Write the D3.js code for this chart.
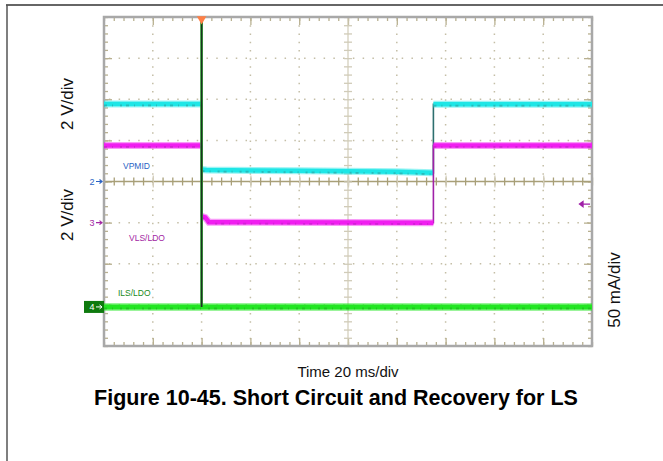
<!DOCTYPE html>
<html>
<head>
<meta charset="utf-8">
<script src="https://cdn.jsdelivr.net/npm/d3@7"></script>
<style>
  body { margin: 0; background: #fff; }
  svg { display: block; font-family: "Liberation Sans", Arial, sans-serif; }
</style>
</head>
<body>
<div id="chart"></div>
<script>
// scope settings: 10 x 20 ms horizontally, 8 divisions vertically
const timeDomain = [0, 200];          // ms
const divDomain = [-4, 4];            // screen divisions

// channel 2, VPMID (2 V/div, ground at 0 div)
const vpmidT = [0, 40, 40, 42, 80, 120, 135, 135, 200];
const vpmidV = [3.77, 3.77, 0.58, 0.56, 0.52, 0.47, 0.42, 3.76, 3.76];

// channel 3, VLS/LDO (2 V/div, ground at -1 div)
const vlsT = [0, 40, 40, 41.5, 43, 135, 135, 200];
const vlsV = [3.75, 3.75, 0.30, 0.25, 0.02, 0.0, 3.75, 3.75];

// channel 4, ILS/LDO (50 mA/div, zero at -3.05 div)
const ilsT = [0, 40, 135, 200];
const ilsI = [0, 0, 0, 0];
const ilsSpikeT = [40, 40];
const ilsSpikeI = [0, 355];

const channels = [
  {name: "VPMID", t: vpmidT, v: vpmidV, perDiv: 2, offset: 0, color: "#1ee6e6", edge: "#2d6f6f", text: "#2a62c4", marker: "2"},
  {name: "VLS/LDO", t: vlsT, v: vlsV, perDiv: 2, offset: -1, color: "#f01ef0", edge: "#a020a8", text: "#a326a3", marker: "3"},
  {name: "ILS/LDO", t: ilsT, v: ilsI, perDiv: 50, offset: -3.05, color: "#22e622", edge: "#1c8a1c", text: "#1a8a1a", marker: "4"}
];

let width = 663;
let height = 461;
let plot = {left: 104, right: 592, top: 17, bottom: 346};

let x = d3.scaleLinear().domain(timeDomain).range([plot.left, plot.right]);
let y = d3.scaleLinear().domain(divDomain).range([plot.bottom, plot.top]);

const svg = d3.select("#chart").append("svg")
    .attr("width", width)
    .attr("height", height);

// outer frame (top and left rule)
svg.append("line").attr("x1", 6).attr("x2", width).attr("y1", 5).attr("y2", 5)
    .attr("stroke", "#333").attr("stroke-width", 1.5);
svg.append("line").attr("x1", 7).attr("x2", 7).attr("y1", 5).attr("y2", height)
    .attr("stroke", "#555").attr("stroke-width", 1.5);

// dotted grid
let xMajor = d3.range(20, 200, 20).filter(d => d != 100);
let yMajor = d3.range(-3, 4, 1).filter(d => d != 0);
let gridColor = "#c4bea6";

svg.append("g")
    .selectAll("line")
    .data(xMajor)
    .join("line")
        .attr("x1", d => x(d)).attr("x2", d => x(d))
        .attr("y1", plot.top).attr("y2", plot.bottom)
        .attr("stroke", gridColor)
        .attr("stroke-width", 1.5)
        .attr("stroke-dasharray", `1.5,${(y(0) - y(0.2)) - 1.5}`);

svg.append("g")
    .selectAll("line")
    .data(yMajor)
    .join("line")
        .attr("y1", d => y(d)).attr("y2", d => y(d))
        .attr("x1", plot.left).attr("x2", plot.right)
        .attr("stroke", gridColor)
        .attr("stroke-width", 1.5)
        .attr("stroke-dasharray", `1.5,${(x(4) - x(0)) - 1.5}`)
        .attr("stroke-dashoffset", -(x(4) - x(0)) / 2);

// edge and centre ticks
let tickColor = "#b8b090";
let xMinor = d3.range(0, 201, 4);
let yMinor = d3.range(-4, 4.01, 0.2).map(d => +d.toFixed(1));

function ticks(g) {
    g.selectAll(".domain").remove();
    g.selectAll("line").attr("stroke", tickColor).attr("stroke-width", 1.3);
    g.selectAll("text").remove();
}

svg.append("g").attr("transform", `translate(0,${plot.top})`)
    .call(d3.axisBottom(x).tickValues(xMinor).tickSize(4).tickFormat(""))
    .call(ticks);
svg.append("g").attr("transform", `translate(0,${plot.bottom})`)
    .call(d3.axisTop(x).tickValues(xMinor).tickSize(4).tickFormat(""))
    .call(ticks);
svg.append("g").attr("transform", `translate(${plot.left},0)`)
    .call(d3.axisRight(y).tickValues(yMinor).tickSize(4).tickFormat(""))
    .call(ticks);
svg.append("g").attr("transform", `translate(${plot.right},0)`)
    .call(d3.axisLeft(y).tickValues(yMinor).tickSize(4).tickFormat(""))
    .call(ticks);
// major ticks slightly longer on the edges
svg.append("g").attr("transform", `translate(0,${plot.top})`)
    .call(d3.axisBottom(x).tickValues(d3.range(20, 200, 20)).tickSize(8).tickFormat(""))
    .call(ticks);
svg.append("g").attr("transform", `translate(0,${plot.bottom})`)
    .call(d3.axisTop(x).tickValues(d3.range(20, 200, 20)).tickSize(8).tickFormat(""))
    .call(ticks);
svg.append("g").attr("transform", `translate(${plot.left},0)`)
    .call(d3.axisRight(y).tickValues(d3.range(-3, 4, 1)).tickSize(8).tickFormat(""))
    .call(ticks);
svg.append("g").attr("transform", `translate(${plot.right},0)`)
    .call(d3.axisLeft(y).tickValues(d3.range(-3, 4, 1)).tickSize(8).tickFormat(""))
    .call(ticks);

// centre cross with ticks on both sides
let centreColor = "#a89f78";
svg.append("line")
    .attr("x1", plot.left).attr("x2", plot.right).attr("y1", y(0)).attr("y2", y(0))
    .attr("stroke", centreColor).attr("stroke-width", 1.4);
svg.append("line")
    .attr("x1", x(100)).attr("x2", x(100)).attr("y1", plot.top).attr("y2", plot.bottom)
    .attr("stroke", "#d0cbb8").attr("stroke-width", 1.2);
svg.append("g").attr("transform", `translate(0,${y(0) - 4})`)
    .call(d3.axisBottom(x).tickValues(xMinor).tickSize(8).tickFormat(""))
    .call(ticks)
    .call(g => g.selectAll("line").attr("stroke", centreColor));
svg.append("g").attr("transform", `translate(0,${y(0) - 6})`)
    .call(d3.axisBottom(x).tickValues(d3.range(20, 200, 20)).tickSize(12).tickFormat(""))
    .call(ticks)
    .call(g => g.selectAll("line").attr("stroke", "#d4cfbd"));
svg.append("g").attr("transform", `translate(${x(100) - 4},0)`)
    .call(d3.axisRight(y).tickValues(yMinor).tickSize(8).tickFormat(""))
    .call(ticks)
    .call(g => g.selectAll("line").attr("stroke", "#d0cbb8"));

// plot border
svg.append("rect")
    .attr("x", plot.left).attr("y", plot.top)
    .attr("width", plot.right - plot.left).attr("height", plot.bottom - plot.top)
    .attr("fill", "none").attr("stroke", "#a8a8a8").attr("stroke-width", 2.5);

// traces
function toDiv(ch, val) { return ch.offset + val / ch.perDiv; }

function levelRuns(ts, vs) {
    let runs = [];
    let cur = [];
    ts.forEach((t, i) => {
        if (i > 0 && t === ts[i - 1]) { runs.push(cur); cur = []; }
        cur.push([t, vs[i]]);
    });
    runs.push(cur);
    return runs.filter(r => r.length > 1);
}

let traces = svg.append("g").attr("class", "traces");

channels.forEach(ch => {
    let line = d3.line().x(d => x(d[0])).y(d => y(toDiv(ch, d[1])));
    let pts = ch.t.map((t, i) => [t, ch.v[i]]);
    // thin edges (steps)
    traces.append("path")
        .attr("d", line(pts))
        .attr("fill", "none")
        .attr("stroke", ch.edge)
        .attr("stroke-width", 1.6);
    // thick noisy band on the levels
    levelRuns(ch.t, ch.v).forEach(run => {
        traces.append("path")
            .attr("d", line(run))
            .attr("fill", "none")
            .attr("stroke", ch.color)
            .attr("stroke-opacity", 0.45)
            .attr("stroke-width", ch.marker == "4" ? 8 : 7);
        traces.append("path")
            .attr("d", line(run))
            .attr("fill", "none")
            .attr("stroke", ch.color)
            .attr("stroke-width", ch.marker == "4" ? 5 : 4.5);
        traces.append("path")
            .attr("d", line(run))
            .attr("fill", "none")
            .attr("stroke", ch.edge)
            .attr("stroke-opacity", 0.35)
            .attr("stroke-width", 2)
            .attr("stroke-dasharray", "3,5,1,7,2,4")
            .attr("transform", "translate(0,1.5)");
    });
});

// current spike at the short
let ilsCh = channels[2];
let spikeLine = d3.line().x(d => x(d[0])).y(d => Math.max(plot.top, y(toDiv(ilsCh, d[1]))));
traces.append("path")
    .attr("d", spikeLine(ilsSpikeT.map((t, i) => [t, ilsSpikeI[i]])))
    .attr("stroke", "#3ad23a").attr("stroke-width", 2.6).attr("fill", "none");
traces.append("path")
    .attr("d", spikeLine(ilsSpikeT.map((t, i) => [t, ilsSpikeI[i]])))
    .attr("stroke", "#1a3320").attr("stroke-width", 1.8).attr("fill", "none");

// trigger marker
svg.append("path")
    .attr("d", d3.symbol(d3.symbolTriangle, 40)())
    .attr("transform", `translate(${x(40)},${plot.top + 2}) rotate(180)`)
    .attr("fill", "#ff7f45");

// channel ground markers on the left
let markers = svg.append("g").style("font-size", "9px");
channels.forEach(ch => {
    let yy = y(ch.offset);
    if (ch.marker == "4") {
        markers.append("rect")
            .attr("x", 84).attr("y", yy - 6).attr("width", 20).attr("height", 12)
            .attr("fill", "#0e7a0e");
        markers.append("text").attr("x", 92).attr("y", yy + 3.5)
            .attr("text-anchor", "middle").attr("fill", "#fff").text(ch.marker);
        markers.append("path").attr("d", `M96,${yy}H102M99.5,${yy - 2}L102,${yy}L99.5,${yy + 2}`)
            .attr("stroke", "#fff").attr("stroke-width", 1).attr("fill", "none");
    } else {
        markers.append("text").attr("x", 92).attr("y", yy + 3.5)
            .attr("text-anchor", "middle").attr("fill", ch.text).text(ch.marker);
        markers.append("path").attr("d", `M96,${yy}H102M99.5,${yy - 2}L102,${yy}L99.5,${yy + 2}`)
            .attr("stroke", ch.text).attr("stroke-width", 1.2).attr("fill", "none");
    }
});

// channel names
let nameX = [123, 129, 118];
let nameY = [169, 241, 296];
channels.forEach((ch, i) => {
    svg.append("text")
        .attr("x", nameX[i]).attr("y", nameY[i])
        .attr("fill", ch.text)
        .style("font-size", "8.5px")
        .text(ch.name);
});

// small channel 3 reference arrow on the right
let arrowY = y(-0.55);
svg.append("path")
    .attr("d", `M580,${arrowY}H590M583,${arrowY - 2.5}L579.5,${arrowY}L583,${arrowY + 2.5}Z`)
    .attr("stroke", "#a020a8").attr("stroke-width", 1.3).attr("fill", "#a020a8");

// scale labels
let labelStyle = g => g.attr("fill", "#111").attr("text-anchor", "middle");
svg.append("text").attr("transform", "translate(73,104) rotate(-90)").call(labelStyle).style("font-size", "17px").text("2 V/div");
svg.append("text").attr("transform", "translate(73,215) rotate(-90)").call(labelStyle).style("font-size", "17px").text("2 V/div");
svg.append("text").attr("transform", "translate(620,290) rotate(-90)").call(labelStyle).style("font-size", "17px").text("50 mA/div");
svg.append("text").attr("x", x(100)).attr("y", 377).call(labelStyle).style("font-size", "15px").text("Time 20 ms/div");

svg.append("text")
    .attr("x", 336).attr("y", 405)
    .attr("text-anchor", "middle")
    .style("font-size", "21.5px")
    .style("font-weight", "bold")
    .attr("fill", "#000")
    .text("Figure 10-45. Short Circuit and Recovery for LS");
</script>
</body>
</html>
